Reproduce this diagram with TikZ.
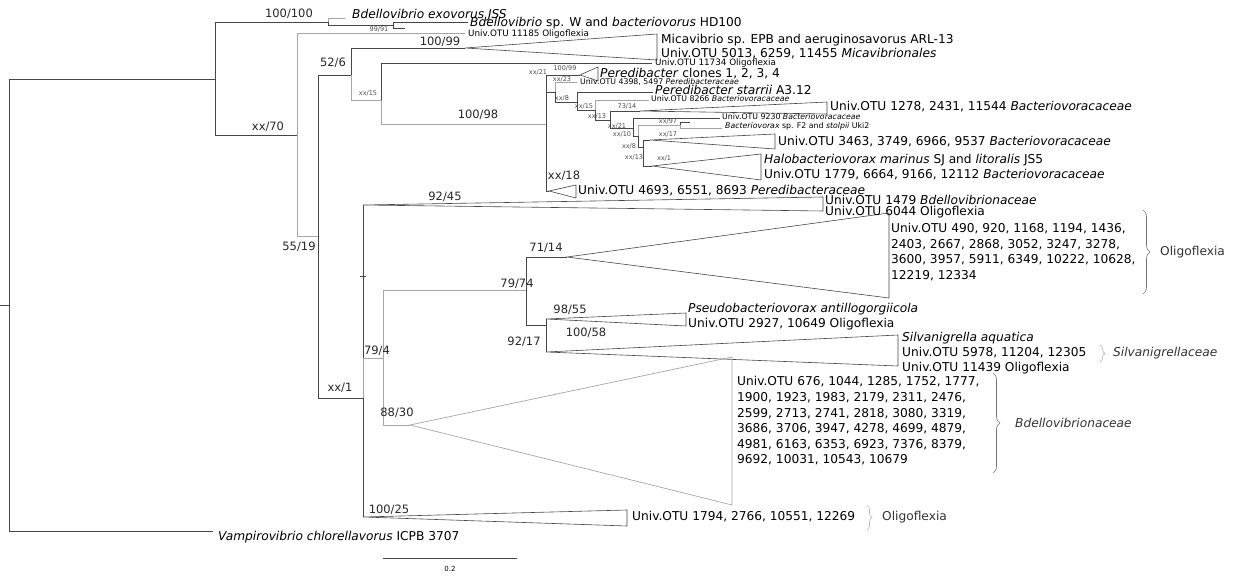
\documentclass[tikz,border=0pt]{standalone}
\usepackage{fontspec}
\setmainfont{DejaVu Sans}
\usetikzlibrary{decorations.pathreplacing}

\begin{document}
\begin{tikzpicture}[x=1pt, y=-1pt,
  br/.style={draw=black!72, line width=0.7pt},
  brg/.style={draw=black!35, line width=0.7pt},
  tri/.style={draw=black!72, line width=0.6pt},
  leaf/.style={anchor=west, inner sep=0pt, font=\fontsize{12.2}{15.6}\selectfont},
  mleaf/.style={anchor=west, inner sep=0pt, font=\fontsize{8.8}{10}\selectfont},
  sleaf/.style={anchor=west, inner sep=0pt, font=\fontsize{7.8}{9}\selectfont},
  supp/.style={inner sep=0pt, font=\fontsize{11.5}{13}\selectfont, text=black!85},
  tiny/.style={inner sep=0pt, font=\fontsize{6.5}{7}\selectfont, text=black!70},
  brc/.style={decorate, decoration={brace, amplitude=7pt}, draw=black!55, line width=0.6pt},
  brcl/.style={decorate, decoration={brace, amplitude=5pt}, draw=black!30, line width=0.6pt},
]
\useasboundingbox (0,0) rectangle (1244,577);

%% backbone
\coordinate (rstub) at (0,305);
\coordinate (root) at (9,305);
\coordinate (n1) at (215,79);
\coordinate (vamp) at (213,531);
\coordinate (bd) at (328,22);
\coordinate (exo) at (345,18);
\coordinate (bdw) at (393,25);
\coordinate (bdwa) at (468,22);
\coordinate (bdwb) at (405,28);
\coordinate (n2) at (297,135);
\coordinate (o11185) at (465,33);
\coordinate (n3) at (318,236);
\coordinate (n4) at (351,75);
\coordinate (mica) at (465,48);
\coordinate (n6) at (381,100);
\coordinate (o11734) at (652,63);
\coordinate (n5) at (363,398);

\draw[br] (rstub) -- (root);
\draw[br] (root) |- (n1);
\draw[br] (root) |- (vamp);
\draw[br] (n1) |- (bd);
\draw[br] (n1) |- (n2);
\draw[brg] (bd) |- (exo);
\draw[br] (bd) |- (bdw);
\draw[br] (bdw) |- (bdwa);
\draw[br] (bdw) |- (bdwb);
\draw[brg] (n2) |- (o11185);
\draw[brg] (n2) |- (n3);
\draw[br] (n3) |- (n4);
\draw[br] (n3) |- (n5);
\draw[br] (n4) |- (mica);
\draw[brg] (n4) |- (n6);
\draw[br] (n6) |- (o11734);

%% Peredibacteraceae / Bacteriovoracaceae
\coordinate (p0) at (546,124);
\coordinate (clones) at (580,75);
\coordinate (per) at (549,191);
\coordinate (p1) at (555,92);
\coordinate (o4398) at (577,82);
\coordinate (p2) at (577,102);
\coordinate (starr) at (653,92);
\coordinate (p3) at (595,110);
\coordinate (o8266) at (649,100);
\coordinate (p4) at (610,120);
\coordinate (t1278) at (640,111);
\coordinate (p5) at (633,128);
\coordinate (o9230) at (720,118);
\coordinate (p6) at (638,136);
\coordinate (f2) at (680,125);
\coordinate (f2a) at (690,122);
\coordinate (f2b) at (722,128);
\coordinate (p7) at (643,147);
\coordinate (t3463) at (650,140);
\coordinate (thalo) at (652,166);

\draw[brg] (n6) |- (p0);
\draw[br] (p0) |- (clones);
\draw[br] (p0) |- (per);
\draw[br] (p0) |- (p1);
\draw[brg] (p1) |- (o4398);
\draw[br] (p1) |- (p2);
\draw[br] (p2) |- (starr);
\draw[br] (p2) |- (p3);
\draw[brg] (p3) |- (o8266);
\draw[br] (p3) |- (p4);
\draw[br] (p4) |- (t1278);
\draw[br] (p4) |- (p5);
\draw[br] (p5) |- (o9230);
\draw[br] (p5) |- (p6);
\draw[brg] (p6) |- (f2);
\draw[br] (f2) |- (f2a);
\draw[brg] (f2) |- (f2b);
\draw[br] (p6) |- (p7);
\draw[br] (p7) |- (t3463);
\draw[br] (p7) |- (thalo);

%% lower clade
\coordinate (t92) at (363,205);
\coordinate (t1794) at (363,517);
\coordinate (n7) at (383,358);
\coordinate (n8) at (526,290);
\coordinate (t88) at (410,425);
\coordinate (t71) at (567,257);
\coordinate (n9) at (546,325);
\coordinate (t98) at (546,319);
\coordinate (t100) at (546,352);

\draw[br] (n5) |- (t92);
\draw[br] (n5) |- (t1794);
\draw[brg] (n5) |- (n7);
\draw[brg] (n7) |- (n8);
\draw[brg] (n7) |- (t88);
\draw[br] (n8) |- (t71);
\draw[br] (n8) |- (n9);
\draw[br] (n9) |- (t98);
\draw[br] (n9) |- (t100);
\draw[br] (360,276) -- (366,276);

%% collapsed clades
\draw[tri] (mica) -- (657,34) -- (657,60) -- cycle;
\draw[tri] (clones) -- (598,67) -- (598,81) -- cycle;
\draw[tri] (per) -- (576,185) -- (576,198) -- cycle;
\draw[tri] (t1278) -- (827,102) -- (827,114) -- cycle;
\draw[tri] (t3463) -- (775,134) -- (775,149) -- cycle;
\draw[tri] (thalo) -- (761,154) -- (761,180) -- cycle;
\draw[tri] (t92) -- (823,197) -- (823,211) -- cycle;
\draw[tri] (t71) -- (889,213) -- (889,298) -- cycle;
\draw[tri] (t98) -- (686,313) -- (686,326) -- cycle;
\draw[tri] (t100) -- (898,335) -- (898,366) -- cycle;
\draw[brg] (t88) -- (732,357) -- (732,505) -- cycle;
\draw[tri] (t1794) -- (627,510) -- (627,526) -- cycle;

%% leaf labels
\node[leaf] (lexo) at (352,15) {\textit{Bdellovibrio exovorus JSS}};
\node[leaf] (lbdw) at (470,23) {\textit{Bdellovibrio} sp. W and \textit{bacteriovorus} HD100};
\node[mleaf] (l11185) at (468,34) {Univ.OTU 11185 Oligoflexia};
\node[leaf] (lmica) at (661,40) {Micavibrio sp. EPB and aeruginosavorus ARL-13};
\node[leaf] (l5013) at (661,54) {Univ.OTU 5013, 6259, 11455 \textit{Micavibrionales}};
\node[mleaf] (l11734) at (655,63.5) {Univ.OTU 11734 Oligoflexia};
\node[leaf] (lclones) at (600,74) {\textit{Peredibacter} clones 1, 2, 3, 4};
\node[sleaf] (l4398) at (580,82) {Univ.OTU 4398, 5497 \textit{Peredibacteraceae}};
\node[leaf] (lstarr) at (655,90) {\textit{Peredibacter starrii} A3.12};
\node[sleaf] (l8266) at (651,99) {Univ.OTU 8266 \textit{Bacteriovoracaceae}};
\node[leaf] (l1278) at (830,107) {Univ.OTU 1278, 2431, 11544 \textit{Bacteriovoracaceae}};
\node[sleaf] (l9230) at (722,117) {Univ.OTU 9230 \textit{Bacteriovoracaceae}};
\node[sleaf] (lf2) at (725,126) {\textit{Bacteriovorax} sp. F2 and \textit{stolpii} Uki2};
\node[leaf] (l3463) at (778,142) {Univ.OTU 3463, 3749, 6966, 9537 \textit{Bacteriovoracaceae}};
\node[leaf] (lhalo) at (764,160) {\textit{Halobacteriovorax marinus} SJ and \textit{litoralis} JS5};
\node[leaf] (l1779) at (764,175) {Univ.OTU 1779, 6664, 9166, 12112 \textit{Bacteriovoracaceae}};
\node[leaf] (l4693) at (578,191) {Univ.OTU 4693, 6551, 8693 \textit{Peredibacteraceae}};
\node[leaf] (l1479) at (825,200) {Univ.OTU 1479 \textit{Bdellovibrionaceae}};
\node[leaf] (l6044) at (825,212) {Univ.OTU 6044 Oligoflexia};
\node[leaf, align=left] (lolig) at (891,252)
  {Univ.OTU 490, 920, 1168, 1194, 1436,\\2403, 2667, 2868, 3052, 3247, 3278,\\3600, 3957, 5911, 6349, 10222, 10628,\\12219, 12334};
\node[leaf] (lpseudo) at (688,309) {\textit{Pseudobacteriovorax antillogorgiicola}};
\node[leaf] (l2927) at (688,324) {Univ.OTU 2927, 10649 Oligoflexia};
\node[leaf] (lsilv) at (902,338) {\textit{Silvanigrella aquatica}};
\node[leaf] (l5978) at (902,353) {Univ.OTU 5978, 11204, 12305};
\node[leaf] (l11439) at (902,368) {Univ.OTU 11439 Oligoflexia};
\node[leaf, align=left] (lbdel) at (737,421)
  {Univ.OTU 676, 1044, 1285, 1752, 1777,\\1900, 1923, 1983, 2179, 2311, 2476,\\2599, 2713, 2741, 2818, 3080, 3319,\\3686, 3706, 3947, 4278, 4699, 4879,\\4981, 6163, 6353, 6923, 7376, 8379,\\9692, 10031, 10543, 10679};
\node[leaf] (l1794) at (632,517) {Univ.OTU 1794, 2766, 10551, 12269};
\node[leaf] (lvamp) at (218,537) {\textit{Vampirovibrio chlorellavorus} ICPB 3707};

%% support values
\node[supp] (s1) at (289,14) {100/100};
\node[supp] (s2) at (268,127) {xx/70};
\node[supp] (s3) at (299,247) {55/19};
\node[supp] (s4) at (333,63) {52/6};
\node[supp] (s5) at (440,42) {100/99};
\node[supp] (s6) at (478,115) {100/98};
\node[supp] (s7) at (564,176) {xx/18};
\node[supp] (s8) at (445,197) {92/45};
\node[supp] (s9) at (546,248) {71/14};
\node[supp] (s10) at (517,284) {79/74};
\node[supp] (s11) at (570,310) {98/55};
\node[supp] (s12) at (586,333) {100/58};
\node[supp] (s13) at (524,342) {92/17};
\node[supp] (s14) at (377,351) {79/4};
\node[supp] (s15) at (340,388) {xx/1};
\node[supp] (s16) at (397,413) {88/30};
\node[supp] (s17) at (389,510) {100/25};
\node[tiny] (u1) at (379,29) {99/91};
\node[tiny] (u2) at (368,93) {xx/15};
\node[tiny] (u3) at (538,72) {xx/21};
\node[tiny] (u4) at (565,68) {100/99};
\node[tiny] (u5) at (562,79) {xx/23};
\node[tiny] (u6) at (562,98) {xx/8};
\node[tiny] (u7) at (584,106) {xx/15};
\node[tiny] (u8) at (597,116) {xx/13};
\node[tiny] (u9) at (627,106) {73/14};
\node[tiny] (u10) at (617,126) {xx/21};
\node[tiny] (u11) at (622,134) {xx/10};
\node[tiny] (u12) at (668,121) {xx/97};
\node[tiny] (u13) at (668,134) {xx/17};
\node[tiny] (u14) at (629,146) {xx/8};
\node[tiny] (u15) at (634,157) {xx/13};
\node[tiny] (u16) at (664,158) {xx/1};

%% group braces
\coordinate (bo1) at (1143,210);
\coordinate (bo2) at (1143,294);
\coordinate (bs1) at (1100,345);
\coordinate (bs2) at (1100,362);
\coordinate (bb1) at (993,373);
\coordinate (bb2) at (993,473);
\coordinate (bl1) at (867,505);
\coordinate (bl2) at (867,530);
\draw[brc] (bo1) -- (bo2);
\draw[brcl] (bs1) -- (bs2);
\draw[brc] (bb1) -- (bb2);
\draw[brcl] (bl1) -- (bl2);
\node[leaf, text=black!80] (golig) at (1160,252) {Oligoflexia};
\node[leaf, text=black!80] (gsilv) at (1113,353) {\textit{Silvanigrellaceae}};
\node[leaf, text=black!80] (gbdel) at (1015,423) {\textit{Bdellovibrionaceae}};
\node[leaf, text=black!80] (golig2) at (882,517) {Oligoflexia};

%% scale bar
\coordinate (sb0) at (383,558);
\coordinate (sb1) at (517,558);
\draw[br] (sb0) -- (sb1);
\node[inner sep=0pt, font=\fontsize{7}{8}\selectfont] (sbl) at (450,569) {0.2};
\end{tikzpicture}
\end{document}
